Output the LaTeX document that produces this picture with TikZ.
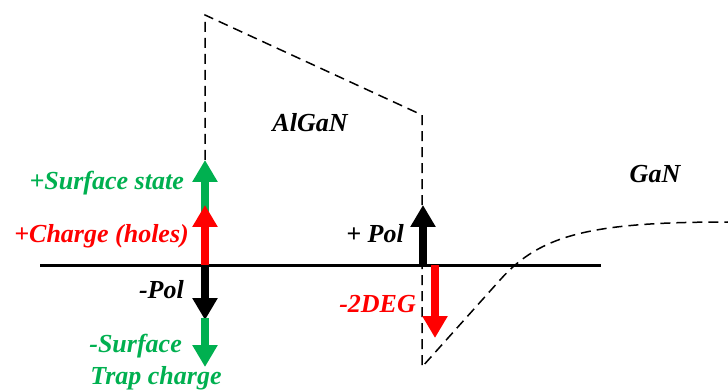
\documentclass[tikz,border=0pt]{standalone}
\usepackage{fontspec}
\setmainfont{Liberation Serif}
\usetikzlibrary{arrows.meta}
\definecolor{trapgreen}{RGB}{0,176,80}
\definecolor{chargered}{RGB}{255,0,0}
\tikzset{
  band/.style={line width=1.5pt, dash pattern=on 10pt off 6pt},
  axis/.style={line width=3pt},
  fatarrow/.style={line width=8pt, line cap=butt, -{Triangle[width=24pt,length=22pt]}},
  lbl/.style={font=\fontsize{26}{28}\selectfont\bfseries\itshape, inner sep=0pt},
}
\begin{document}
\begin{tikzpicture}[x=1pt,y=-1pt]
  \useasboundingbox (0,0) rectangle (728,390);

  % conduction band profile: AlGaN barrier and GaN well
  \draw[band] (205,160) -- (205,15) -- (422,115) -- (422,367) -- (500,280)
    .. controls (540,235) and (590,222) .. (728,222);

  % Fermi level / reference line
  \coordinate (axL) at (40,265);
  \coordinate (axR) at (601,265);
  \draw[axis] (axL) -- (axR);

  % charges at the surface
  \coordinate (s0) at (205,265);
  \coordinate (s1) at (205,205);
  \coordinate (s1b) at (205,212);
  \coordinate (s2) at (205,160);
  \coordinate (s3) at (205,320);
  \coordinate (s3b) at (205,318);
  \coordinate (s4) at (205,367);
  \draw[fatarrow, trapgreen] (s1b) -- (s2);
  \draw[fatarrow, chargered] (s0) -- (s1);
  \draw[fatarrow, black] (s0) -- (s3);
  \draw[fatarrow, trapgreen] (s3b) -- (s4);

  % charges at the heterointerface
  \coordinate (h0) at (423,265);
  \coordinate (h1) at (423,205);
  \coordinate (d0) at (435,265);
  \coordinate (d1) at (435,338);
  \draw[fatarrow, black] (h0) -- (h1);
  \draw[fatarrow, chargered] (d0) -- (d1);

  % labels
  \node[lbl, anchor=base east, text=trapgreen] (lss) at (184,190) {+Surface state};
  \node[lbl, anchor=base east, text=chargered] (lch) at (189,243) {+Charge (holes)};
  \node[lbl, anchor=base east] (lnp) at (184,298) {-Pol};
  \node[lbl, anchor=base east, text=trapgreen] (lst) at (182,352) {-Surface};
  \node[lbl, anchor=base, text=trapgreen] (ltc) at (156,384) {Trap charge};
  \node[lbl, anchor=base] (lalgan) at (310,132) {AlGaN};
  \node[lbl, anchor=base] (lgan) at (655,183) {GaN};
  \node[lbl, anchor=base east] (lpp) at (404,243) {+ Pol};
  \node[lbl, anchor=base east, text=chargered] (l2d) at (416,312) {-2DEG};
\end{tikzpicture}
\end{document}
